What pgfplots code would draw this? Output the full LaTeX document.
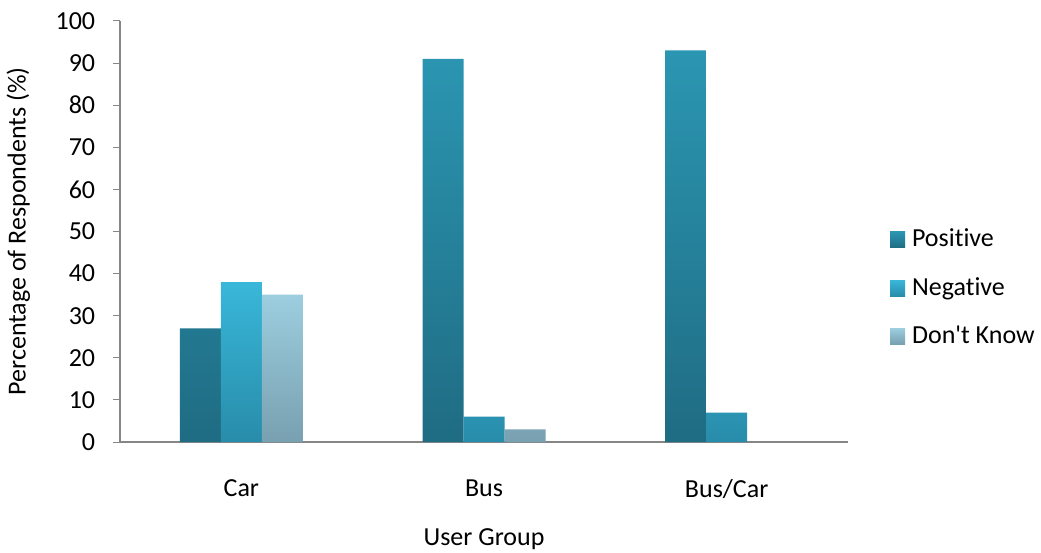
\documentclass[border=0pt]{standalone}
\usepackage{fontspec}
\setmainfont{Carlito}[Ligatures=NoCommon]
\usepackage{pgfplots}
\pgfplotsset{compat=1.18}
\definecolor{axgray}{RGB}{134,134,134}
\begin{document}
\fontsize{26}{30}\selectfont
\begin{tikzpicture}[x=1pt,y=1pt]
\path[use as bounding box] (0,0) rectangle (1041,552);
\begin{axis}[
  at={(120pt,110pt)}, anchor=south west,
  scale only axis, width=728pt, height=421pt,
  ybar=0pt, bar width=41pt,
  xmin=-0.5, xmax=2.5, ymin=0, ymax=100,
  xtick={0,1,2}, xticklabels={Car,Bus,Bus/Car},
  ytick={0,10,...,100},
  axis x line=bottom, axis y line=left,
  axis line style={-, draw=axgray, line width=1.2pt},
  xtick style={draw=none},
  ytick style={draw=axgray, line width=1pt},
  tick align=outside, major tick length=7pt,
  x tick label style={yshift=-22pt},
  y tick label style={xshift=-9pt},
  /pgf/number format/assume math mode=true,
  xlabel={User Group}, ylabel={Percentage of Respondents (\%)},
  xlabel style={yshift=-12pt},
  ylabel style={yshift=8pt},
  legend style={at={(1.0575,0.366)}, anchor=west, draw=none, fill=none,
    row sep=22.5pt, inner sep=0pt, font=\fontsize{26}{30}\selectfont,
    nodes={inner xsep=7pt}},
  legend cell align=left,
  legend image code/.code={\path[#1] (0pt,-8pt) rectangle (15pt,8pt);},
]
\addplot[draw=none, top color={rgb,255:red,43;green,150;blue,178}, bottom color={rgb,255:red,31;green,108;blue,131}]
  coordinates {(0,27) (1,91) (2,93)};
\addplot[draw=none, top color={rgb,255:red,57;green,183;blue,217}, bottom color={rgb,255:red,40;green,140;blue,170}]
  coordinates {(0,38) (1,6) (2,7)};
\addplot[draw=none, top color={rgb,255:red,156;green,206;blue,223}, bottom color={rgb,255:red,120;green,160;blue,176}]
  coordinates {(0,35) (1,3)};
\legend{Positive,Negative,Don\textquotesingle t Know}
\end{axis}
\end{tikzpicture}
\end{document}
